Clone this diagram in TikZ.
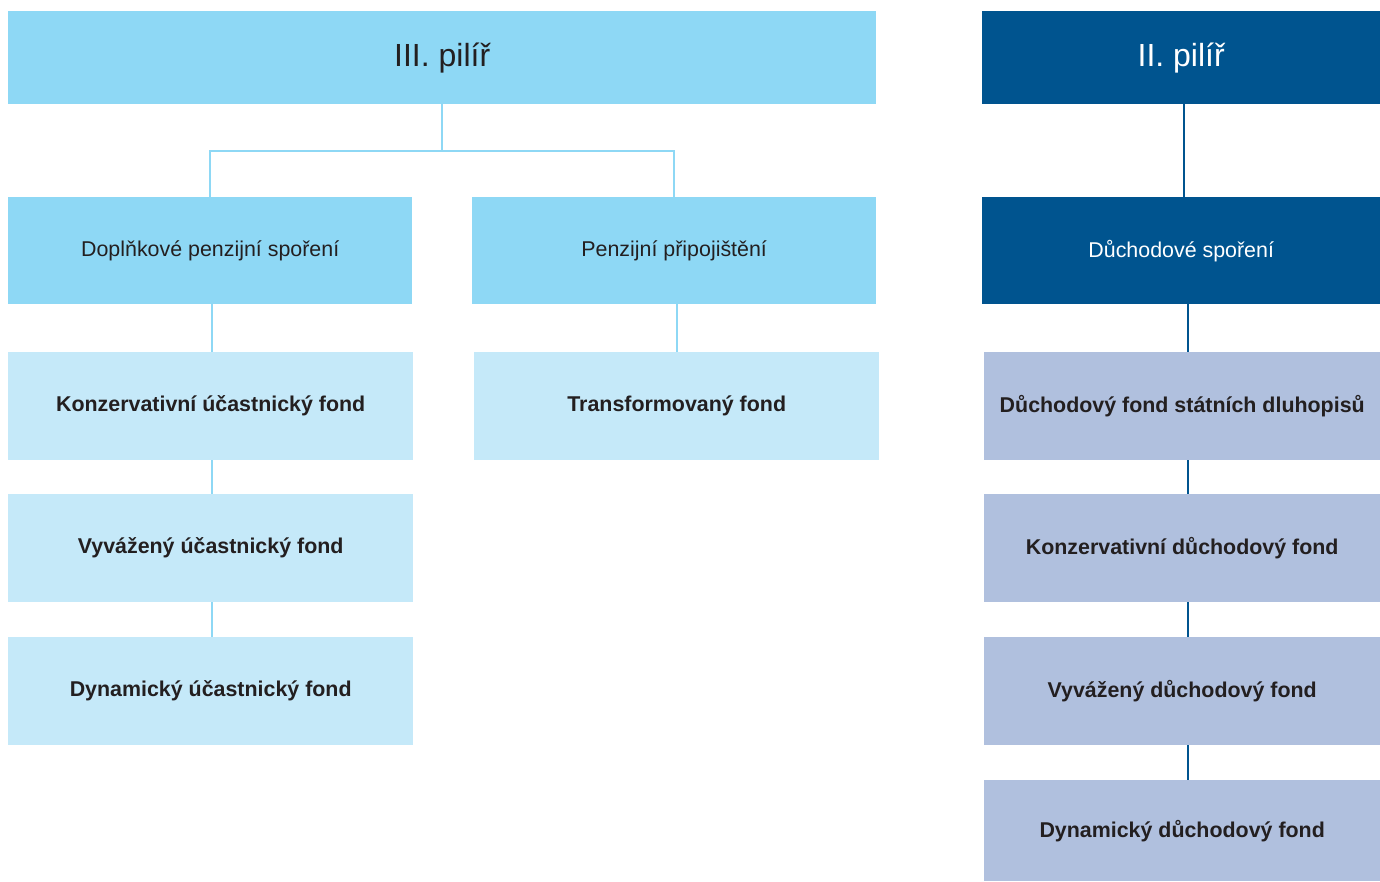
\documentclass[tikz,border=0pt]{standalone}
\usepackage{fontspec}
\setmainfont{Liberation Sans}
\definecolor{lightb}{HTML}{8ED8F5}
\definecolor{paleb}{HTML}{C5E9F9}
\definecolor{darkb}{HTML}{00548F}
\definecolor{greyb}{HTML}{B0C0DE}
\definecolor{txt}{HTML}{231F20}
\begin{document}
\begin{tikzpicture}[x=1pt,y=-1pt,
  box/.style={draw=none,inner sep=0pt,anchor=north west,align=center},
  headl/.style={box,fill=lightb,text=txt,font=\fontsize{32}{36}\selectfont},
  headd/.style={box,fill=darkb,text=white,font=\fontsize{32}{36}\selectfont},
  subl/.style={box,fill=lightb,text=txt,font=\fontsize{21.4}{25}\selectfont},
  subd/.style={box,fill=darkb,text=white,font=\fontsize{21.4}{25}\selectfont},
  fundl/.style={box,fill=paleb,text=txt,font=\bfseries\fontsize{21.4}{25}\selectfont},
  fundd/.style={box,fill=greyb,text=txt,font=\bfseries\fontsize{21.4}{25}\selectfont},
  linel/.style={draw=lightb,line width=2.5pt},
  lined/.style={draw=darkb,line width=2.2pt}]
\useasboundingbox (0,0) rectangle (1380,881);
% headers
\node[headl,minimum width=868pt,minimum height=93pt] (p3) at (8,11) {III. pilíř};
\node[headd,minimum width=398pt,minimum height=93pt] (p2) at (982,11) {II. pilíř};
% sub
\node[subl,minimum width=404pt,minimum height=107pt] (dps) at (8,197) {Doplňkové penzijní spoření};
\node[subl,minimum width=404pt,minimum height=107pt] (pp) at (472,197) {Penzijní připojištění};
\node[subd,minimum width=398pt,minimum height=107pt] (ds) at (982,197) {Důchodové spoření};
% funds left
\node[fundl,minimum width=405pt,minimum height=108pt] (kuf) at (8,352) {Konzervativní účastnický fond};
\node[fundl,minimum width=405pt,minimum height=108pt] (vuf) at (8,494) {Vyvážený účastnický fond};
\node[fundl,minimum width=405pt,minimum height=108pt] (duf) at (8,637) {Dynamický účastnický fond};
\node[fundl,minimum width=405pt,minimum height=108pt] (tf) at (474,352) {Transformovaný fond};
% funds right
\node[fundd,minimum width=396pt,minimum height=108pt] (dfsd) at (984,352) {Důchodový fond státních dluhopisů};
\node[fundd,minimum width=396pt,minimum height=108pt] (kdf) at (984,494) {Konzervativní důchodový fond};
\node[fundd,minimum width=396pt,minimum height=108pt] (vdf) at (984,637) {Vyvážený důchodový fond};
\node[fundd,minimum width=396pt,minimum height=101pt] (ddf) at (984,780) {Dynamický důchodový fond};
% connectors
\coordinate (j) at (442,151);
\draw[linel] (p3.south -| j) -- (j);
\draw[linel] (dps.north -| 210,0) |- (674,151) -- (pp.north -| 674,0);
\draw[linel] (dps.south -| 212,0) -- (kuf.north -| 212,0);
\draw[linel] (kuf.south -| 212,0) -- (vuf.north -| 212,0);
\draw[linel] (vuf.south -| 212,0) -- (duf.north -| 212,0);
\draw[linel] (pp.south -| 677,0) -- (tf.north -| 677,0);
\draw[lined] (p2.south -| 1184,0) -- (ds.north -| 1184,0);
\draw[lined] (ds.south -| 1188,0) -- (dfsd.north -| 1188,0);
\draw[lined] (dfsd.south -| 1188,0) -- (kdf.north -| 1188,0);
\draw[lined] (kdf.south -| 1188,0) -- (vdf.north -| 1188,0);
\draw[lined] (vdf.south -| 1188,0) -- (ddf.north -| 1188,0);
\end{tikzpicture}
\end{document}
